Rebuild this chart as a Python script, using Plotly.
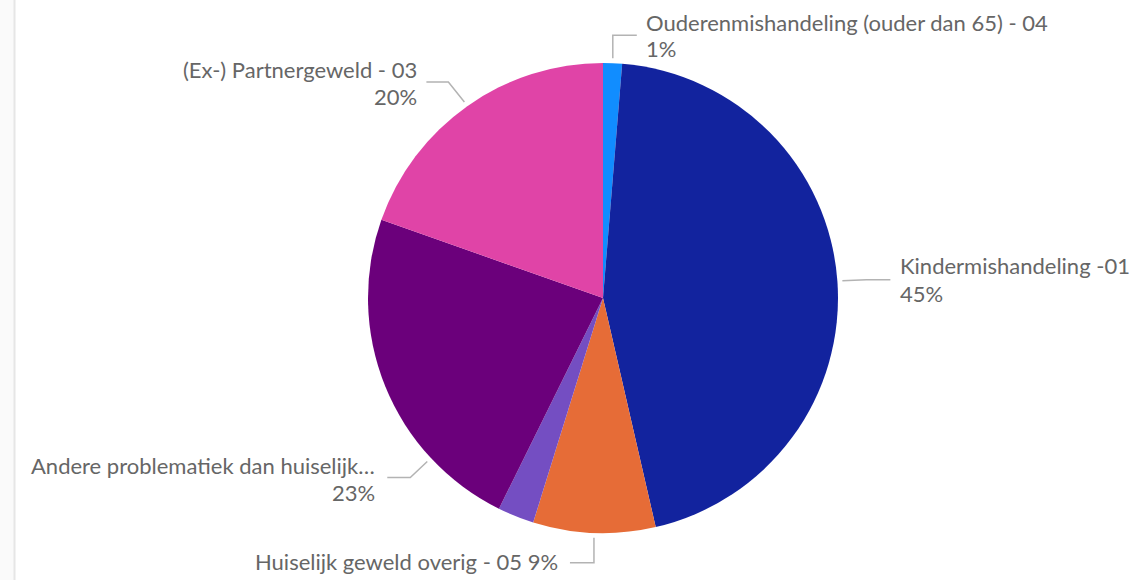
import math
import plotly.graph_objects as go

# ---- data ----
categories = [
    "Ouderenmishandeling (ouder dan 65) - 04",
    "Kindermishandeling -01",
    "Huiselijk geweld overig - 05",
    "Overig",
    "Andere problematiek dan huiselijk…",
    "(Ex-) Partnergeweld - 03",
]
values = [1.3, 45.1, 8.4, 2.5, 23.1, 19.6]
pct_labels = ["1%", "45%", "9%", "", "23%", "20%"]
show_label = [True, True, True, False, True, True]

colors = ["#118DFF", "#12239E", "#E66C37", "#744EC2", "#6B007B", "#E044A7"]

# ---- layout constants (pixels) ----
W, H = 1135, 580
CX, CY, R = 603, 298, 235
TEXT_COLOR = "#666666"
LINE_COLOR = "#B3B3B3"
FONT = "Lato"
FS = 22

def px(x):
    return x / W

def py(y):
    return 1 - y / H

fig = go.Figure()
fig.add_trace(go.Pie(
    labels=categories,
    values=values,
    sort=False,
    direction="clockwise",
    rotation=0,
    marker=dict(colors=colors, line=dict(width=0)),
    textinfo="none",
    hoverinfo="label+percent",
    showlegend=False,
    domain=dict(x=[px(CX - R), px(CX + R)], y=[py(CY + R), py(CY - R)]),
))

# leader-line style per slice: fraction within slice for anchor, elbow offset,
# horizontal run, text side and gap, and vertical text offsets
styles = [
    dict(frac=0.5, elbow=(0, -23), run=24, side="left", gap=7, single=False, dy=(-13, 13)),
    dict(frac=0.5, elbow=(24, -1), run=24, side="left", gap=8, single=False, dy=(-14, 14)),
    dict(frac=0.5, elbow=(0, 25), run=-24, side="right", gap=10, single=True, dy=(-1, 0)),
    None,
    dict(frac=0.25, elbow=(-17, 16), run=-23, side="right", gap=10, single=False, dy=(-12, 15)),
    dict(frac=0.5, elbow=(-16, -20), run=-22, side="right", gap=7, single=False, dy=(-13, 14)),
]

total = sum(values)
cum = 0.0
shapes = []
annotations = []
for i, v in enumerate(values):
    st = styles[i]
    if show_label[i] and st is not None:
        ang = 2 * math.pi * (cum + st["frac"] * v) / total
        ax = CX + (R + 5) * math.sin(ang)
        ay = CY - (R + 5) * math.cos(ang)
        ex, ey = ax + st["elbow"][0], ay + st["elbow"][1]
        tx, ty = ex + st["run"], ey
        path = f"M {px(ax)} {py(ay)} L {px(ex)} {py(ey)} L {px(tx)} {py(ty)}"
        shapes.append(dict(type="path", xref="paper", yref="paper", path=path,
                           line=dict(color=LINE_COLOR, width=1.5)))
        if st["side"] == "left":
            xa, anchor = tx + st["gap"], "left"
        else:
            xa, anchor = tx - st["gap"], "right"
        font = dict(family=FONT, size=FS, color=TEXT_COLOR)
        if st["single"]:
            annotations.append(dict(x=px(xa), y=py(ty + st["dy"][0]), xref="paper", yref="paper",
                                    text=f"{categories[i]} {pct_labels[i]}", showarrow=False,
                                    xanchor=anchor, yanchor="middle", font=font))
        else:
            annotations.append(dict(x=px(xa), y=py(ty + st["dy"][0]), xref="paper", yref="paper",
                                    text=categories[i], showarrow=False,
                                    xanchor=anchor, yanchor="middle", font=font))
            annotations.append(dict(x=px(xa), y=py(ty + st["dy"][1]), xref="paper", yref="paper",
                                    text=pct_labels[i], showarrow=False,
                                    xanchor=anchor, yanchor="middle", font=font))
    cum += v

# left container edge
shapes.append(dict(type="rect", xref="paper", yref="paper", x0=0, x1=px(14), y0=0, y1=1,
                   fillcolor="#FAFAFA", line=dict(width=0), layer="below"))
shapes.append(dict(type="line", xref="paper", yref="paper", x0=px(14.5), x1=px(14.5), y0=0, y1=1,
                   line=dict(color="#E6E6E6", width=2)))

fig.update_layout(
    width=W, height=H,
    margin=dict(l=0, r=0, t=0, b=0),
    paper_bgcolor="white",
    plot_bgcolor="white",
    shapes=shapes,
    annotations=annotations,
    font=dict(family=FONT, color=TEXT_COLOR),
)

fig.write_html(
    "out.html",
    config={"displayModeBar": False},
    post_script="document.body.style.margin='0';document.body.style.overflow='hidden';",
)
